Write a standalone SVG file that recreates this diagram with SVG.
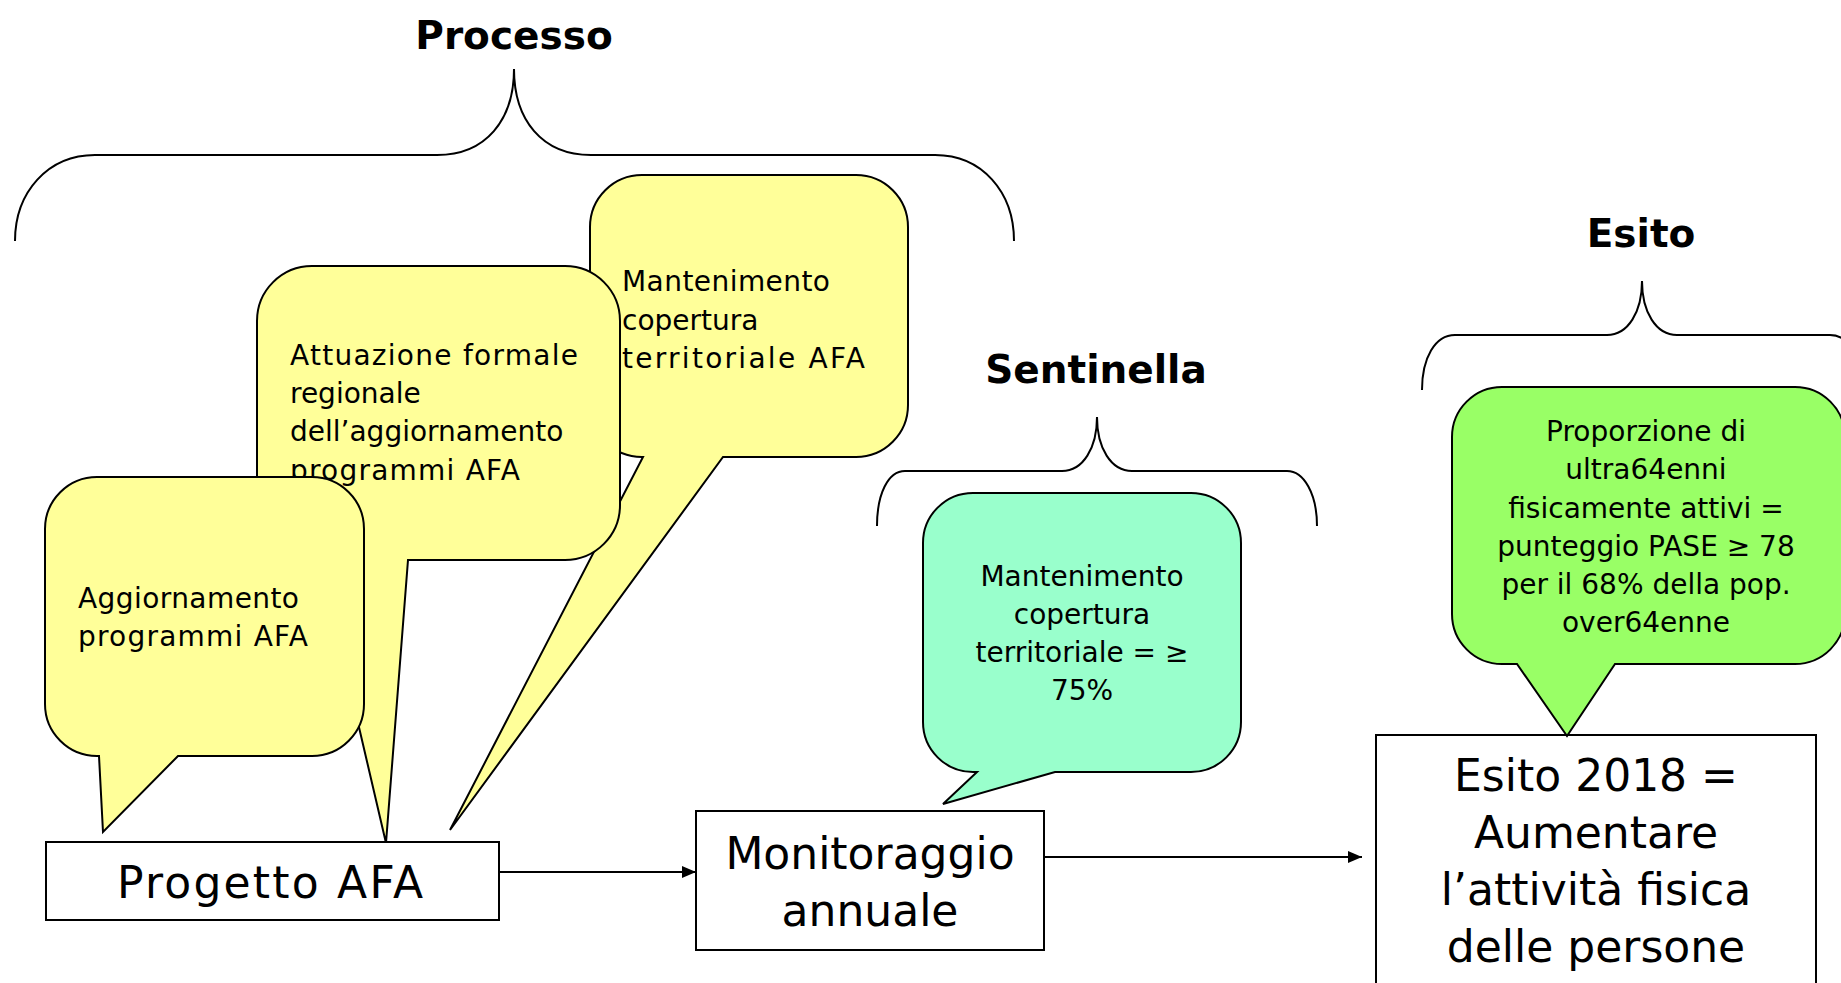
<svg xmlns="http://www.w3.org/2000/svg" width="1841" height="983" viewBox="0 0 1841 983">
  <defs>
    <style>
      .brace { fill: none; stroke: #000; stroke-width: 2; }
      .head { font-family: "DejaVu Sans", sans-serif; font-weight: bold; font-size: 39px; fill: #000; text-anchor: middle; }
      .bubble { stroke: #000; stroke-width: 2; stroke-linejoin: miter; }
      .yellow { fill: #FFFF99; }
      .mint { fill: #99FFCC; }
      .lime { fill: #99FF66; }
      .txt { font-family: "DejaVu Sans", sans-serif; font-size: 28px; fill: #000; }
      .mid { text-anchor: middle; }
      .box { fill: #fff; stroke: #000; stroke-width: 2; }
      .big { font-family: "DejaVu Sans", sans-serif; font-size: 44px; fill: #000; text-anchor: middle; }
      .link { stroke: #000; stroke-width: 2; fill: none; marker-end: url(#arrow); }
    </style>
    <marker id="arrow" markerUnits="userSpaceOnUse" markerWidth="14" markerHeight="12" refX="14" refY="6" orient="auto">
      <path d="M0,0 L14,6 L0,12 Z" fill="#000"/>
    </marker>
  </defs>

  <rect width="1841" height="983" fill="#fff"/>

  <!-- Section headings with curly braces -->
  <g id="processo-header">
    <text class="head" x="514" y="49">Processo</text>
    <path class="brace" d="M15,241 C15,192 48,155 95,155 L437,155 C486,155 514,120 514,69 C514,120 542,155 591,155 L935,155 C982,155 1014,192 1014,241"/>
  </g>
  <g id="sentinella-header">
    <text class="head" x="1096" y="383">Sentinella</text>
    <path class="brace" d="M877,526 C877,494 888,471 905,471 L1062,471 C1083,471 1097,448 1097,417 C1097,448 1111,471 1132,471 L1287,471 C1304,471 1317,494 1317,526"/>
  </g>
  <g id="esito-header">
    <text class="head" x="1641" y="247">Esito</text>
    <path class="brace" d="M1422,390 C1422,358 1435,335 1455,335 L1607,335 C1628,335 1642,312 1642,281 C1642,312 1656,335 1677,335 L1830,335 C1850,335 1862,358 1862,390"/>
  </g>

  <!-- Callouts: process indicators -->
  <g id="bubble-mantenimento">
    <path class="bubble yellow" d="M642,175 H856 A52,52 0 0 1 908,227 V405 A52,52 0 0 1 856,457 H723 L450,830 L643,457 H642 A52,52 0 0 1 590,405 V227 A52,52 0 0 1 642,175 Z"/>
    <text class="txt" x="622" y="291" textLength="208" lengthAdjust="spacing">Mantenimento</text>
    <text class="txt" x="622" y="330">copertura</text>
    <text class="txt" x="622" y="368" textLength="243" lengthAdjust="spacing">territoriale AFA</text>
  </g>
  <g id="bubble-attuazione">
    <path class="bubble yellow" d="M312,266 H565 A55,55 0 0 1 620,321 V505 A55,55 0 0 1 565,560 H408 L386,843 L320,560 H312 A55,55 0 0 1 257,505 V321 A55,55 0 0 1 312,266 Z"/>
    <text class="txt" x="290" y="365" textLength="288" lengthAdjust="spacing">Attuazione formale</text>
    <text class="txt" x="290" y="403">regionale</text>
    <text class="txt" x="290" y="441">dell’aggiornamento</text>
    <text class="txt" x="290" y="480" textLength="230" lengthAdjust="spacing">programmi AFA</text>
  </g>
  <g id="bubble-aggiornamento">
    <path class="bubble yellow" d="M97,477 H312 A52,52 0 0 1 364,529 V704 A52,52 0 0 1 312,756 H178 L103,832 L99,756 H97 A52,52 0 0 1 45,704 V529 A52,52 0 0 1 97,477 Z"/>
    <text class="txt" x="78" y="608" textLength="221" lengthAdjust="spacing">Aggiornamento</text>
    <text class="txt" x="78" y="646" textLength="230" lengthAdjust="spacing">programmi AFA</text>
  </g>

  <!-- Callout: sentinel indicator -->
  <g id="bubble-sentinella">
    <path class="bubble mint" d="M973,493 H1191 A50,50 0 0 1 1241,543 V722 A50,50 0 0 1 1191,772 H1055 L943,804 L977,772 H973 A50,50 0 0 1 923,722 V543 A50,50 0 0 1 973,493 Z"/>
    <text class="txt mid" x="1082" y="586">Mantenimento</text>
    <text class="txt mid" x="1082" y="624">copertura</text>
    <text class="txt mid" x="1082" y="662">territoriale = ≥</text>
    <text class="txt mid" x="1082" y="700">75%</text>
  </g>

  <!-- Main flow boxes -->
  <g id="box-progetto">
    <rect class="box" x="46" y="842" width="453" height="78"/>
    <text class="big" x="270" y="898" textLength="306" lengthAdjust="spacing">Progetto AFA</text>
  </g>
  <g id="box-monitoraggio">
    <rect class="box" x="696" y="811" width="348" height="139"/>
    <text class="big" x="870" y="869">Monitoraggio</text>
    <text class="big" x="870" y="926">annuale</text>
  </g>
  <g id="box-esito">
    <rect class="box" x="1376" y="735" width="440" height="270"/>
    <text class="big" x="1596" y="791">Esito 2018 =</text>
    <text class="big" x="1596" y="848">Aumentare</text>
    <text class="big" x="1596" y="905">l’attività fisica</text>
    <text class="big" x="1596" y="962">delle persone</text>
  </g>

  <!-- Callout: outcome indicator -->
  <g id="bubble-esito">
    <path class="bubble lime" d="M1502,387 H1795 A50,50 0 0 1 1845,437 V614 A50,50 0 0 1 1795,664 H1615 L1567,736 L1517,664 H1502 A50,50 0 0 1 1452,614 V437 A50,50 0 0 1 1502,387 Z"/>
    <text class="txt mid" x="1646" y="441">Proporzione di</text>
    <text class="txt mid" x="1646" y="479">ultra64enni</text>
    <text class="txt mid" x="1646" y="518">fisicamente attivi =</text>
    <text class="txt mid" x="1646" y="556">punteggio PASE ≥ 78</text>
    <text class="txt mid" x="1646" y="594">per il 68% della pop.</text>
    <text class="txt mid" x="1646" y="632">over64enne</text>
  </g>

  <!-- Flow connectors -->
  <g id="connectors">
    <line class="link" x1="499" y1="872" x2="696" y2="872"/>
    <line class="link" x1="1044" y1="857" x2="1362" y2="857"/>
  </g>
</svg>
